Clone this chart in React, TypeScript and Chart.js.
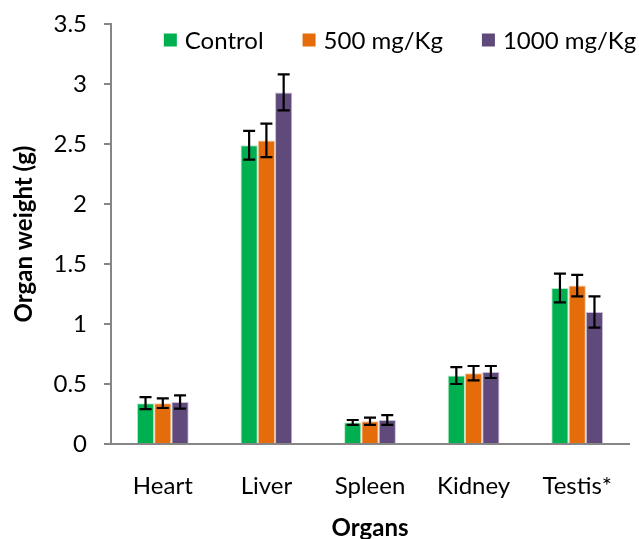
import React, { useEffect, useRef } from "react";
import { Chart, registerables } from "chart.js";

Chart.register(...registerables);

const categories = ["Heart", "Liver", "Spleen", "Kidney", "Testis*"];
const seriesLabels = ["Control", "500 mg/Kg", "1000 mg/Kg"];
const controlValues = [0.34, 2.49, 0.18, 0.57, 1.3];
const mg500Values = [0.34, 2.53, 0.19, 0.59, 1.32];
const mg1000Values = [0.35, 2.93, 0.2, 0.6, 1.1];
const controlErrors = [0.05, 0.12, 0.02, 0.07, 0.12];
const mg500Errors = [0.04, 0.14, 0.03, 0.06, 0.09];
const mg1000Errors = [0.055, 0.15, 0.04, 0.05, 0.13];
const seriesColors = ["#00B050", "#E46C0A", "#604A7B"];
const seriesBorders = ["#b8e8c8", "#f5c9a4", "#c9bfd6"];

const FONT = "Lato, 'Open Sans', sans-serif";
const AXIS = "#868686";

const errorBarPlugin = {
  id: "errorBars",
  afterDatasetsDraw(chart: any) {
    const ctx = chart.ctx;
    const yScale = chart.scales.y;
    ctx.save();
    ctx.strokeStyle = "#000";
    ctx.lineWidth = 2.2;
    chart.data.datasets.forEach((ds: any, i: number) => {
      const meta = chart.getDatasetMeta(i);
      meta.data.forEach((el: any, j: number) => {
        const v = ds.data[j];
        const e = ds.errors[j];
        const yt = yScale.getPixelForValue(v + e);
        const yb = yScale.getPixelForValue(v - e);
        const x = el.x;
        const cap = 6;
        ctx.beginPath();
        ctx.moveTo(x, yt);
        ctx.lineTo(x, yb);
        ctx.moveTo(x - cap, yt);
        ctx.lineTo(x + cap, yt);
        ctx.moveTo(x - cap, yb);
        ctx.lineTo(x + cap, yb);
        ctx.stroke();
      });
    });
    ctx.restore();
  },
};

const legendPlugin = {
  id: "customLegend",
  afterDraw(chart: any) {
    const ctx = chart.ctx;
    ctx.save();
    ctx.font = `24px ${FONT}`;
    ctx.textBaseline = "middle";
    ctx.textAlign = "left";
    const box = 13;
    const gapText = 8;
    const gapItem = 39;
    const items = chart.data.datasets.map((ds: any) => ({
      label: ds.label,
      color: ds.backgroundColor,
      w: ctx.measureText(ds.label).width,
    }));
    const total = items.reduce((s: number, it: any) => s + box + gapText + it.w, 0) + gapItem * (items.length - 1);
    let x = 400 - total / 2;
    const cy = 40;
    items.forEach((it: any) => {
      ctx.fillStyle = it.color;
      ctx.fillRect(x, cy - box / 2, box, box);
      x += box + gapText;
      ctx.fillStyle = "#000";
      ctx.fillText(it.label, x, cy + 1);
      x += it.w + gapItem;
    });
    ctx.restore();
  },
};

export default function App() {
  const ref = useRef<HTMLCanvasElement>(null);
  useEffect(() => {
    if (!ref.current) return;
    const values = [controlValues, mg500Values, mg1000Values];
    const errors = [controlErrors, mg500Errors, mg1000Errors];
    const chart = new Chart(ref.current, {
      type: "bar",
      data: {
        labels: categories,
        datasets: seriesLabels.map((label, i) => ({
          label,
          data: values[i],
          errors: errors[i],
          backgroundColor: seriesColors[i],
          borderColor: seriesBorders[i],
          borderWidth: 1,
          categoryPercentage: 0.5,
          barPercentage: 1.0,
        })) as any,
      },
      options: {
        animation: false,
        responsive: false,
        maintainAspectRatio: false,
        layout: { padding: { top: 24, right: 10, bottom: 0, left: 0 } },
        plugins: { legend: { display: false }, tooltip: { enabled: false } },
        scales: {
          x: {
            grid: { display: false },
            border: { display: true, color: AXIS, width: 2 },
            ticks: { color: "#000", font: { family: FONT, size: 24 }, padding: 20, maxRotation: 0 },
            title: {
              display: true,
              text: "Organs",
              color: "#000",
              font: { family: FONT, size: 24, weight: "bold" },
              padding: { top: 0, bottom: -4 },
            },
            afterFit(scale: any) {
              scale.height = 95;
              scale.paddingLeft = 0;
              scale.paddingRight = 0;
            },
          },
          y: {
            min: 0,
            max: 3.5,
            ticks: {
              stepSize: 0.5,
              color: "#000",
              font: { family: FONT, size: 24 },
              padding: 17,
              callback: (v: any) => String(v),
            },
            grid: {
              drawOnChartArea: false,
              drawTicks: true,
              tickLength: 7,
              color: AXIS,
              lineWidth: 2,
            },
            border: { display: true, color: AXIS, width: 2 },
            title: {
              display: true,
              text: "Organ weight (g)",
              color: "#000",
              font: { family: FONT, size: 24, weight: "bold" },
              padding: { top: 10, bottom: 0 },
            },
            afterFit(scale: any) {
              scale.width = 111;
              scale.paddingTop = 0;
              scale.paddingBottom = 0;
            },
          },
        },
      },
      plugins: [errorBarPlugin, legendPlugin],
    });
    return () => chart.destroy();
  }, []);
  return (
    <div style={{ position: "absolute", left: 0, top: 0, width: 639, height: 539, background: "#fff" }}>
      <canvas ref={ref} width={639} height={539} style={{ display: "block" }} />
    </div>
  );
}
